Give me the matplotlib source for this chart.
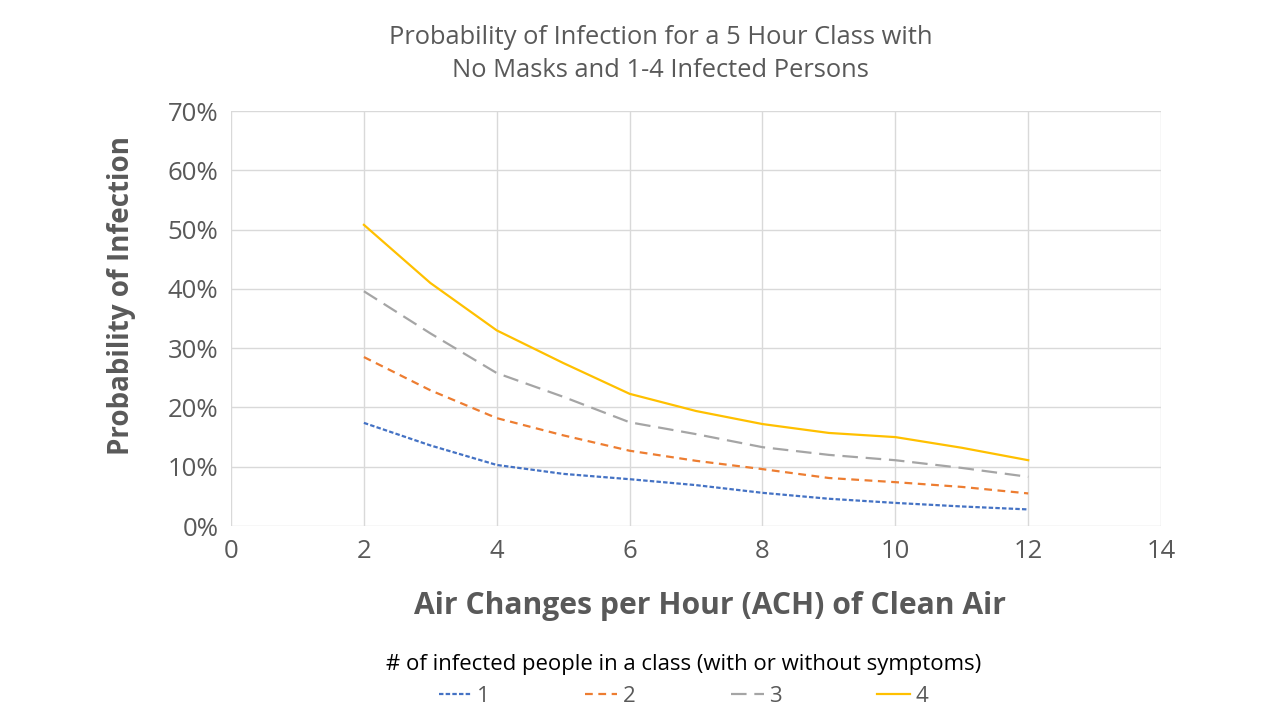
import matplotlib.pyplot as plt
from matplotlib.ticker import PercentFormatter

plt.rcParams['font.family'] = ['Open Sans', 'DejaVu Sans']

# air changes per hour
ach = [2, 3, 4, 5, 6, 7, 8, 9, 10, 11, 12]

# probability of infection (%) for 1-4 infected persons
p1 = [17.4, 13.6, 10.3, 8.8, 7.9, 6.9, 5.6, 4.6, 3.9, 3.3, 2.8]
p2 = [28.5, 22.9, 18.2, 15.3, 12.7, 11.0, 9.6, 8.1, 7.4, 6.6, 5.5]
p3 = [39.6, 32.5, 25.8, 21.8, 17.5, 15.5, 13.3, 12.0, 11.1, 9.8, 8.3]
p4 = [50.8, 41.0, 33.0, 27.5, 22.3, 19.4, 17.2, 15.7, 15.0, 13.2, 11.1]

labels = ['1', '2', '3', '4']
gray = '#595959'

fig = plt.figure(figsize=(12.8, 7.2), dpi=100)
ax = fig.add_axes([0.1805, 0.2694, 0.7266, 0.5764])

ax.plot(ach, p1, color='#4472C4', lw=1.6, linestyle=(0, (2, 1)), label=labels[0])
ax.plot(ach, p2, color='#ED7D31', lw=1.6, linestyle=(0, (3.5, 2.5)), label=labels[1])
ax.plot(ach, p3, color='#A5A5A5', lw=1.6, linestyle=(0, (7, 3.5)), label=labels[2])
ax.plot(ach, p4, color='#FFC000', lw=1.6, label=labels[3])

ax.set_xlim(0, 14)
ax.set_ylim(0, 70)
ax.set_xticks(range(0, 15, 2))
ax.set_yticks(range(0, 71, 10))
ax.yaxis.set_major_formatter(PercentFormatter(decimals=0))
ax.grid(True, color='#d9d9d9', lw=1)
ax.set_axisbelow(True)
for s in ax.spines.values():
    s.set_visible(False)
ax.tick_params(length=0, labelsize=18.5, colors=gray, pad=9)

# axis titles
fig.text(0.555, 0.158, 'Air Changes per Hour (ACH) of Clean Air', fontsize=21.7,
         fontweight='bold', color=gray, ha='center', va='center')
fig.text(0.095, 0.589, 'Probability of Infection', fontsize=20, fontweight='bold',
         color=gray, ha='center', va='center', rotation=90)

fig.text(0.516, 0.925, 'Probability of Infection for a 5 Hour Class with\nNo Masks and 1-4 Infected Persons',
         ha='center', va='center', fontsize=18.4, color=gray, linespacing=1.45)

leg = fig.legend(loc='center', bbox_to_anchor=(0.534, 0.055), ncol=4, frameon=False,
                 title='# of infected people in a class (with or without symptoms)',
                 fontsize=16, title_fontsize=15.9, columnspacing=4.3, handlelength=1.45,
                 handletextpad=0.25)
for t in leg.get_texts():
    t.set_color(gray)

fig.savefig('out.png', dpi=100)
